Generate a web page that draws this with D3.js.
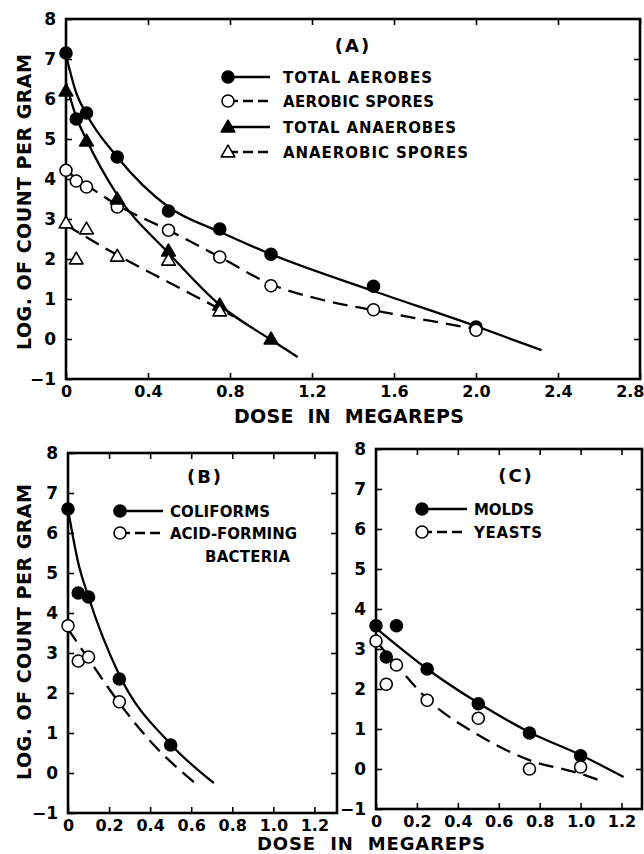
<!DOCTYPE html>
<html>
<head>
<meta charset="utf-8">
<script src="https://cdn.jsdelivr.net/npm/d3@7"></script>
<style>
  html, body { margin: 0; padding: 0; background: #fff; }
  svg { display: block; font-family: 'DejaVu Sans', sans-serif; font-weight: bold; }
  .tick text { font-family: 'DejaVu Sans', sans-serif; font-weight: bold; }
</style>
</head>
<body>
<div id="chart"></div>
<script>
// ---- data (log count per gram vs dose in megareps) ----
const yTicks = [-1, 0, 1, 2, 3, 4, 5, 6, 7, 8];
const xTicksA = [0, 0.4, 0.8, 1.2, 1.6, 2.0, 2.4, 2.8];
const xTicksBC = [0, 0.2, 0.4, 0.6, 0.8, 1.0, 1.2];

// panel A
const doseA = [0, 0.05, 0.1, 0.25, 0.5, 0.75, 1.0, 1.5, 2.0];
const totalAerobes = [7.15, 5.5, 5.65, 4.55, 3.2, 2.75, 2.12, 1.32, 0.3];
const aerobicSpores = [4.22, 3.95, 3.8, 3.3, 2.72, 2.05, 1.33, 0.73, 0.22];
const doseAnaerobes = [0, 0.1, 0.25, 0.5, 0.75, 1.0];
const totalAnaerobes = [6.2, 4.95, 3.5, 2.2, 0.85, 0.0];
const doseAnaSpores = [0, 0.05, 0.1, 0.25, 0.5, 0.75];
const anaerobicSpores = [2.9, 2.0, 2.75, 2.07, 1.97, 0.7];

// panel B
const doseColi = [0, 0.05, 0.1, 0.25, 0.5];
const coliforms = [6.6, 4.5, 4.4, 2.35, 0.7];
const doseAcid = [0, 0.05, 0.1, 0.25];
const acidFormers = [3.68, 2.8, 2.9, 1.78];

// panel C
const doseC = [0, 0.05, 0.1, 0.25, 0.5, 0.75, 1.0];
const molds = [3.58, 2.8, 3.58, 2.5, 1.63, 0.9, 0.33];
const yeasts = [3.2, 2.12, 2.6, 1.72, 1.27, 0.0, 0.05];

// hand-fitted curves, [dose, log count]
const fitAerobes = [[0, 7.1], [0.05, 6.15], [0.1, 5.62], [0.25, 4.55], [0.5, 3.3], [0.75, 2.68], [1.0, 2.12], [1.5, 1.2], [2.0, 0.32], [2.32, -0.28]];
const fitAerobicSpores = [[0, 4.2], [0.1, 3.85], [0.25, 3.35], [0.5, 2.72], [0.75, 2.05], [1.0, 1.37], [1.25, 0.98], [1.5, 0.72], [2.0, 0.25]];
const fitAnaerobes = [[0, 6.4], [0.05, 5.55], [0.1, 4.98], [0.25, 3.6], [0.5, 2.15], [0.75, 0.85], [1.0, -0.02], [1.13, -0.45]];
const fitAnaSpores = [[0, 2.85], [0.25, 2.1], [0.5, 1.42], [0.75, 0.75], [0.82, 0.56]];
const fitColiforms = [[0, 6.6], [0.05, 5.25], [0.1, 4.4], [0.25, 2.45], [0.5, 0.72], [0.71, -0.25]];
const fitAcid = [[0, 3.6], [0.1, 2.85], [0.25, 1.75], [0.4, 0.8], [0.63, -0.3]];
const fitMolds = [[0, 3.52], [0.25, 2.5], [0.5, 1.65], [0.75, 0.92], [1.0, 0.35], [1.21, -0.2]];
const fitYeasts = [[0, 3.2], [0.1, 2.6], [0.25, 1.75], [0.5, 0.85], [0.75, 0.22], [1.0, -0.12], [1.1, -0.3]];

const zip = (xs, ys) => xs.map((x, i) => [x, ys[i]]);

const svg = d3.select('#chart')
  .append('svg')
  .attr('width', 644)
  .attr('height', 854);

const DASH = '15,8';

const panels = [
  {
    x0: 66, x1: 640, y0: 19, y1: 379, xMax: 2.8, xTicks: xTicksA,
    fmt: (d) => (d === 0 ? '0' : d3.format('.1f')(d)),
    label: '(A)', labelX: 353, labelY: 52,
    series: [
      { pts: zip(doseA, totalAerobes), fit: fitAerobes, shape: 'circle', filled: true },
      { pts: zip(doseA, aerobicSpores), fit: fitAerobicSpores, shape: 'circle', filled: false },
      { pts: zip(doseAnaerobes, totalAnaerobes), fit: fitAnaerobes, shape: 'triangle', filled: true },
      { pts: zip(doseAnaSpores, anaerobicSpores), fit: fitAnaSpores, shape: 'triangle', filled: false },
    ],
    legend: {
      mx: 228, lx: 270, tx: 283,
      rows: [
        { y: 77, text: 'TOTAL AEROBES', w: 149, shape: 'circle', filled: true },
        { y: 101, text: 'AEROBIC SPORES', w: 151, shape: 'circle', filled: false },
        { y: 127, text: 'TOTAL ANAEROBES', w: 173, shape: 'triangle', filled: true },
        { y: 152, text: 'ANAEROBIC SPORES', w: 185, shape: 'triangle', filled: false },
      ],
    },
  },
  {
    x0: 68, x1: 337, y0: 453, y1: 813, xMax: 1.31, xTicks: xTicksBC,
    fmt: (d) => (d === 0 ? '0' : d3.format('.1f')(d)),
    label: '(B)', labelX: 205, labelY: 483,
    series: [
      { pts: zip(doseColi, coliforms), fit: fitColiforms, shape: 'circle', filled: true },
      { pts: zip(doseAcid, acidFormers), fit: fitAcid, shape: 'circle', filled: false },
    ],
    legend: {
      mx: 120, lx: 163, tx: 170,
      rows: [
        { y: 511, text: 'COLIFORMS', w: 100, shape: 'circle', filled: true },
        { y: 533, text: 'ACID-FORMING', w: 127, shape: 'circle', filled: false },
      ],
      extra: { x: 205, y: 562, text: 'BACTERIA', w: 85 },
    },
  },
  {
    x0: 376, x1: 642, y0: 449, y1: 809, xMax: 1.3, xTicks: xTicksBC,
    fmt: (d) => (d === 0 ? '0' : d3.format('.1f')(d)),
    label: '(C)', labelX: 516, labelY: 482,
    series: [
      { pts: zip(doseC, molds), fit: fitMolds, shape: 'circle', filled: true },
      { pts: zip(doseC, yeasts), fit: fitYeasts, shape: 'circle', filled: false },
    ],
    legend: {
      mx: 422, lx: 467, tx: 474,
      rows: [
        { y: 509, text: 'MOLDS', w: 60, shape: 'circle', filled: true },
        { y: 532, text: 'YEASTS', w: 68, shape: 'circle', filled: false },
      ],
    },
  },
];

const triPath = (r) => `M0,${-r * 1.05}L${r * 1.05},${r * 0.75}L${-r * 1.05},${r * 0.75}Z`;

function drawMarker(g, shape, filled) {
  if (shape === 'circle') {
    g.append('circle')
      .attr('r', 6)
      .attr('fill', filled ? '#000' : '#fff')
      .attr('stroke', '#000')
      .attr('stroke-width', 1.6);
  } else {
    g.append('path')
      .attr('d', triPath(6.5))
      .attr('fill', filled ? '#000' : '#fff')
      .attr('stroke', '#000')
      .attr('stroke-width', 1.6)
      .attr('stroke-linejoin', 'round');
  }
}

panels.forEach((p) => {
  const x = d3.scaleLinear().domain([0, p.xMax]).range([p.x0, p.x1]);
  const y = d3.scaleLinear().domain([-1, 8]).range([p.y1, p.y0]);
  const g = svg.append('g');

  // inward ticks on all four sides
  const bottom = g.append('g')
    .attr('transform', `translate(0,${p.y1})`)
    .call(d3.axisBottom(x).tickValues(p.xTicks).tickSize(-6).tickPadding(6).tickFormat(p.fmt));
  const top = g.append('g')
    .attr('transform', `translate(0,${p.y0})`)
    .call(d3.axisTop(x).tickValues(p.xTicks.filter((d) => d > 0)).tickSize(-6).tickFormat(''));
  const left = g.append('g')
    .attr('transform', `translate(${p.x0},0)`)
    .call(d3.axisLeft(y).tickValues(yTicks).tickSize(-6).tickPadding(10).tickFormat(d3.format('d')));
  const right = g.append('g')
    .attr('transform', `translate(${p.x1},0)`)
    .call(d3.axisRight(y).tickValues(yTicks.slice(1, -1)).tickSize(-6).tickFormat(''));

  [bottom, top, left, right].forEach((a) => {
    a.select('.domain').remove();
    a.selectAll('line').attr('stroke', '#000').attr('stroke-width', 1.6);
  });
  bottom.selectAll('text').attr('font-size', 16).attr('fill', '#000').attr('dy', '0.72em');
  // last label of the wide panel sits against the page edge
  bottom.selectAll('.tick text')
    .filter((d) => d > 2.5)
    .attr('text-anchor', 'end')
    .attr('dx', 4);
  left.selectAll('text').attr('font-size', 17).attr('fill', '#000');

  g.append('rect')
    .attr('x', p.x0)
    .attr('y', p.y0)
    .attr('width', p.x1 - p.x0)
    .attr('height', p.y1 - p.y0)
    .attr('fill', 'none')
    .attr('stroke', '#000')
    .attr('stroke-width', 2.6);

  // fitted curves
  const line = d3.line()
    .x((d) => x(d[0]))
    .y((d) => y(d[1]))
    .curve(d3.curveMonotoneX);

  p.series.forEach((s) => {
    g.append('path')
      .attr('d', line(s.fit))
      .attr('fill', 'none')
      .attr('stroke', '#000')
      .attr('stroke-width', 2.3)
      .attr('stroke-dasharray', s.filled ? null : DASH);
  });

  // data points
  p.series.forEach((s) => {
    s.pts.forEach((d) => {
      const m = g.append('g').attr('transform', `translate(${x(d[0])},${y(d[1])})`);
      drawMarker(m, s.shape, s.filled);
    });
  });

  // panel letter
  g.append('text')
    .attr('x', p.labelX)
    .attr('y', p.labelY)
    .attr('text-anchor', 'middle')
    .attr('font-size', 18)
    .attr('letter-spacing', 2)
    .text(p.label);

  // legend
  const L = p.legend;
  L.rows.forEach((r) => {
    g.append('line')
      .attr('x1', L.mx)
      .attr('x2', L.lx)
      .attr('y1', r.y)
      .attr('y2', r.y)
      .attr('stroke', '#000')
      .attr('stroke-width', 2.6)
      .attr('stroke-dasharray', r.filled ? null : '10,5');
    drawMarker(g.append('g').attr('transform', `translate(${L.mx},${r.y})`), r.shape, r.filled);
    g.append('text')
      .attr('x', L.tx)
      .attr('y', r.y + 6)
      .attr('font-size', 15)
      .attr('textLength', r.w)
      .attr('lengthAdjust', 'spacing')
      .text(r.text);
  });
  if (L.extra) {
    g.append('text')
      .attr('x', L.extra.x)
      .attr('y', L.extra.y)
      .attr('font-size', 15)
      .attr('textLength', L.extra.w)
      .attr('lengthAdjust', 'spacing')
      .text(L.extra.text);
  }
});

// axis titles
const yTitles = [{ cy: 202 }, { cy: 632 }];
yTitles.forEach((t) => {
  svg.append('text')
    .attr('transform', `translate(31,${t.cy}) rotate(-90)`)
    .attr('text-anchor', 'middle')
    .attr('font-size', 19)
    .attr('textLength', 296)
    .attr('lengthAdjust', 'spacing')
    .text('LOG. OF COUNT PER GRAM');
});

svg.append('text')
  .attr('x', 349)
  .attr('y', 423)
  .attr('text-anchor', 'middle')
  .attr('font-size', 19)
  .attr('textLength', 230)
  .attr('lengthAdjust', 'spacing')
  .attr('xml:space', 'preserve')
  .text('DOSE  IN  MEGAREPS');

svg.append('text')
  .attr('x', 371)
  .attr('y', 850)
  .attr('text-anchor', 'middle')
  .attr('font-size', 18)
  .attr('textLength', 228)
  .attr('lengthAdjust', 'spacing')
  .attr('xml:space', 'preserve')
  .text('DOSE  IN  MEGAREPS');
</script>
</body>
</html>
